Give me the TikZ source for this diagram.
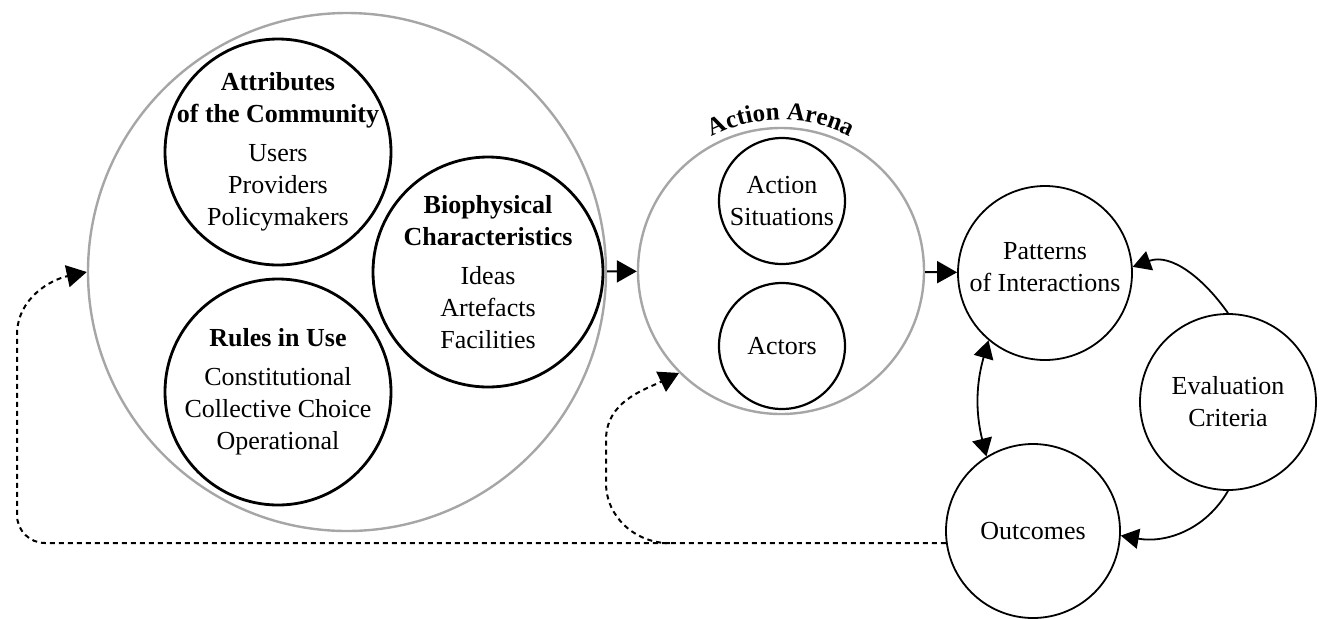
\documentclass[tikz,border=0pt]{standalone}
\usepackage{fontspec}
\setmainfont{Liberation Serif}
\usetikzlibrary{arrows.meta, decorations.text}

\begin{document}
\begin{tikzpicture}[x=0.5pt, y=0.5pt,
  ring/.style={circle, draw, line width=1.4pt, inner sep=0pt},
  greyring/.style={circle, draw=black!35, line width=1.2pt, inner sep=0pt},
  thinring/.style={circle, draw, line width=0.9pt, inner sep=0pt},
  txt/.style={align=center, font=\fontsize{13}{16}\selectfont},
  arr/.style={line width=1pt, -{Triangle[length=10pt, width=11pt]}},
  smallarr/.style={line width=0.9pt, -{Triangle[length=9pt, width=10pt]}},
  feedback/.style={line width=1pt, dash pattern=on 2.5pt off 2pt, -{Triangle[length=10pt, width=11pt]}}]
\useasboundingbox (0,0) rectangle (1319,-618);

% exogenous variables
\node[greyring, minimum size=259pt] (ctx) at (347,-272) {};
\node[ring, minimum size=113pt] (attr) at (278,-152) {};
\node[ring, minimum size=113pt] (rules) at (278,-392) {};
\node[ring, minimum size=115pt] (bio) at (488,-272) {};
\node[txt] (attrtxt) at (attr) {\textbf{Attributes}\\\textbf{of the Community}\\[3.5pt]Users\\Providers\\Policymakers};
\node[txt] (rulestxt) at (rules) {\textbf{Rules in Use}\\[3.5pt]Constitutional\\Collective Choice\\Operational};
\node[txt] (biotxt) at (bio) {\textbf{Biophysical}\\\textbf{Characteristics}\\[3.5pt]Ideas\\Artefacts\\Facilities};

% action arena
\node[greyring, minimum size=143pt] (arena) at (781,-271) {};
\node[ring, line width=1.1pt, minimum size=63pt] (sit) at (782,-201) {};
\node[ring, line width=1.1pt, minimum size=63pt] (actors) at (782,-346) {};
\node[txt] (sittxt) at (sit) {Action\\Situations};
\node[txt] (actorstxt) at (actors) {Actors};
\path[decorate, decoration={text along path, text align=center,
  text={|\bfseries\fontsize{12.5}{16}\selectfont|Action Arena}}]
  (arena.center) ++(160:75.5pt) arc (160:20:75.5pt);

% results
\node[thinring, minimum size=87pt] (pat) at (1045,-273) {};
\node[thinring, minimum size=88pt] (eval) at (1228,-402) {};
\node[thinring, minimum size=87pt] (out) at (1033,-531) {};
\node[txt] (pattxt) at ([yshift=3pt]pat) {Patterns\\of Interactions};
\node[txt] (evaltxt) at (eval) {Evaluation\\Criteria};
\node[txt] (outtxt) at (out) {Outcomes};

\draw[arr] (ctx) -- (arena);
\draw[arr] (arena) -- (pat);
\draw[line width=0.9pt, {Triangle[length=9pt, width=10pt]}-{Triangle[length=9pt, width=10pt]}] (pat.230) to[bend right=15] (out.122);
\draw[smallarr] (eval.90) to[out=125, in=20] (pat.4);
\draw[smallarr] (eval.270) to[out=-120, in=-10] (out.-3);

% feedback
\path (out.188) ++(-276,0) coordinate (fork);
\draw[feedback] (out.188) -- (45,-543) to[out=180, in=-90] (17,-515) -- (17,-335) to[out=90, in=192] (ctx.west);
\draw[feedback] (fork) to[out=180, in=-90] (606,-483) -- (606,-440) to[out=90, in=206] (arena.225);
\end{tikzpicture}
\end{document}
